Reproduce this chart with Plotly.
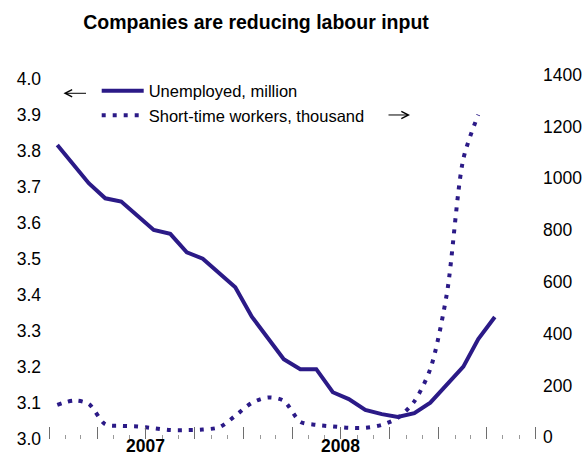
import pandas as pd
import plotly.graph_objects as go
from plotly.subplots import make_subplots

# ---- data ----
unemp_start = "2007-01-01"
unemployed_million = [3.817, 3.759, 3.711, 3.669, 3.660, 3.620, 3.581, 3.570, 3.519, 3.501,
                      3.462, 3.422, 3.340, 3.280, 3.222, 3.194, 3.194, 3.130, 3.111, 3.081,
                      3.069, 3.061, 3.072, 3.101, 3.151, 3.201, 3.278, 3.339]
short_time_thousand = [125, 142, 129, 50, 44, 42, 35, 28, 28, 30,
                       39, 83, 133, 154, 141, 60, 48, 42, 37, 37,
                       48, 75, 139, 264, 554, 1075, 1245]
year_labels = ["2007", "2008"]
year_label_pos = ["2007-07-01", "2008-07-01"]

months_u = pd.date_range(unemp_start, periods=len(unemployed_million), freq="MS") + pd.Timedelta(days=15)
months_s = pd.date_range(unemp_start, periods=len(short_time_thousand), freq="MS") + pd.Timedelta(days=15)

COL = "#2B1A87"
FONT = "Liberation Sans, Arial, sans-serif"

fig = make_subplots(specs=[[{"secondary_y": True}]])
fig.add_trace(go.Scatter(x=months_u, y=unemployed_million, mode="lines",
                         name="Unemployed, million",
                         line=dict(color=COL, width=4)), secondary_y=False)
fig.add_trace(go.Scatter(x=months_s, y=short_time_thousand, mode="lines",
                         name="Short-time workers, thousand",
                         line=dict(color=COL, width=4, dash="4px,7px", shape="spline", smoothing=0.8)),
              secondary_y=True)

W, H = 586, 457
L, R, T, B = 42, 44, 74.0, 17.8
ph = H - T - B

def py(p):
    return (H - B - p) / ph

def px(p):
    return (p - L) / (W - L - R)

fig.update_layout(
    width=W, height=H,
    margin=dict(l=L, r=R, t=T, b=B, autoexpand=False),
    paper_bgcolor="white", plot_bgcolor="white",
    font=dict(family=FONT, size=17.5, color="black"),
    title=dict(text="<b>Companies are reducing labour input</b>",
               font=dict(family=FONT, size=19.5, color="black"),
               x=256 / W, xanchor="center", xref="container",
               y=1 - 22.5 / H, yanchor="middle", yref="container"),
    showlegend=True,
    legend=dict(x=px(96.7), y=py(73.5), xanchor="left", yanchor="top",
                bgcolor="rgba(0,0,0,0)", font=dict(family=FONT, size=16.5),
                itemwidth=42, tracegroupgap=0),
)

fig.update_xaxes(
    domain=[0, 1], automargin=False,
    range=["2006-12-18 07:00", "2009-07-13 14:00"],
    showgrid=False, zeroline=False, showline=False,
    tickmode="linear", tick0="2007-01-01", dtick="M3",
    ticks="inside", ticklen=12, tickwidth=1, tickcolor="#6e6e6e",
    showticklabels=False,
    minor=dict(ticks="inside", ticklen=4, tickwidth=1, tickcolor="#9a9a9a",
               dtick="M1", tick0="2007-01-01"),
)
fig.update_yaxes(range=[3.0, 4.0 + (79.2 - T) / 360], dtick=0.1, tick0=3.0, tickformat=".1f",
                 showgrid=False, zeroline=False, showline=False, ticks="", automargin=False,
                 secondary_y=False)
fig.update_yaxes(range=[-6.56, (437.5 - T) * 1400 / 362.8], dtick=200, tick0=0,
                 showgrid=False, zeroline=False, showline=False, ticks="", automargin=False,
                 secondary_y=True)

for lbl, pos in zip(year_labels, year_label_pos):
    fig.add_annotation(x=pos, y=py(458.5), xref="x", yref="paper",
                       text=f"<b>{lbl}</b>", showarrow=False,
                       font=dict(family=FONT, size=17.5, color="black"),
                       xanchor="center", yanchor="bottom")

# direction arrows (which axis each series uses)
fig.add_annotation(x=px(63.5), y=py(93.3), xref="paper", yref="paper", text="",
                   showarrow=True, arrowhead=5, arrowsize=1.4, arrowwidth=1,
                   arrowcolor="black", ax=24, ay=0, standoff=0)
fig.add_annotation(x=px(410), y=py(115), xref="paper", yref="paper", text="",
                   showarrow=True, arrowhead=5, arrowsize=1.4, arrowwidth=1,
                   arrowcolor="black", ax=-23, ay=0, standoff=0)

fig.write_html("out.html", config={"displayModeBar": False},
               post_script="document.body.style.margin='0';")
